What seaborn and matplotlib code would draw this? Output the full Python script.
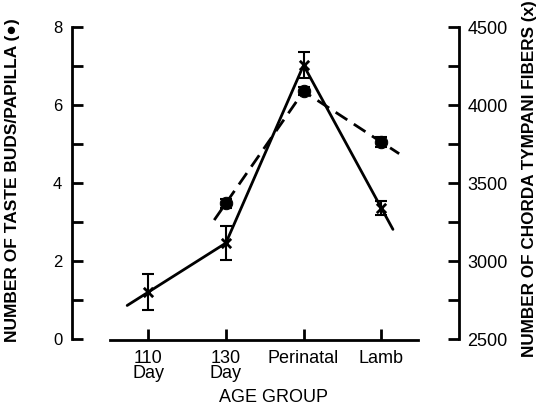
import numpy as np
import pandas as pd
import matplotlib
matplotlib.use("Agg")
import matplotlib.pyplot as plt
import seaborn as sns
from matplotlib.ticker import MultipleLocator

# ---- data ----
groups = ["110\nDay", "130\nDay", "Perinatal", "Lamb"]
bud_groups = [1, 2, 3]                 # indices of groups with taste bud data
buds = [3.48, 6.35, 5.05]
buds_err = [0.12, 0.10, 0.12]
fiber_groups = [0, 1, 2, 3]
fibers = [2800, 3115, 4255, 3340]
fibers_err = [115, 110, 83, 45]

left_ticks = [0, 2, 4, 6, 8]
right_ticks = [2500, 3000, 3500, 4000, 4500]

sns.set_theme(style="white")
plt.rcParams['font.family'] = ['Liberation Sans', 'DejaVu Sans']
plt.rcParams['text.color'] = 'black'
plt.rcParams['axes.labelcolor'] = 'black'
plt.rcParams['xtick.color'] = 'black'
plt.rcParams['ytick.color'] = 'black'

fig = plt.figure(figsize=(5.43, 4.05), dpi=100)
ax = fig.add_axes([72/543, 1-339/405, (459-72)/543, (339-27)/405])
ax2 = ax.twinx()

def extend(xs, ys, fl, fr):
    xs = list(map(float, xs)); ys = list(map(float, ys))
    x0 = xs[0] - fl*(xs[1]-xs[0]); y0 = ys[0] - fl*(ys[1]-ys[0])
    x1 = xs[-1] + fr*(xs[-1]-xs[-2]); y1 = ys[-1] + fr*(ys[-1]-ys[-2])
    return [x0]+xs+[x1], [y0]+ys+[y1]

# taste buds (dashed, dots)
bx, by = extend(bud_groups, buds, 0.15, 0.23)
sns.lineplot(x=bx, y=by, ax=ax, sort=False, estimator=None, color="black",
             lw=2, linestyle=(0, (5, 2.8)))
ax.errorbar(bud_groups, buds, yerr=buds_err, fmt="none", ecolor="black",
            elinewidth=1.5, capsize=4, capthick=1.5)
sns.scatterplot(x=bud_groups, y=buds, ax=ax, color="black", s=80, marker="o",
                edgecolor="black", zorder=5)

# fibers (solid, x)
fx, fy = extend(fiber_groups, fibers, 0.27, 0.15)
sns.lineplot(x=fx, y=fy, ax=ax2, sort=False, estimator=None, color="black", lw=2)
ax2.errorbar(fiber_groups, fibers, yerr=fibers_err, fmt="none", ecolor="black",
             elinewidth=1.5, capsize=4, capthick=1.5)
ax2.scatter(fiber_groups, fibers, marker="x", s=45, color="black", linewidths=2, zorder=5)

ax.set_xlim(-0.98, 4.0)
ax.set_ylim(0, 8)
ax2.set_ylim(2500, 4500)

for a in (ax, ax2):
    a.spines["top"].set_visible(False)
    for s in a.spines.values():
        s.set_linewidth(2)
        s.set_color("black")
ax2.spines["left"].set_visible(False)
ax2.spines["bottom"].set_visible(False)
ax.spines["right"].set_visible(False)
ax.spines["left"].set_bounds(0, 8)
ax2.spines["right"].set_bounds(2500, 4500)
ax.spines["bottom"].set_bounds(-0.49, 3.47)
ax.spines["bottom"].set_position(("outward", 1))

ax.set_xticks(range(len(groups)))
ax.set_xticklabels(groups, fontsize=13, linespacing=0.85)
ax.set_yticks(left_ticks)
ax.set_yticklabels([str(t) for t in left_ticks], fontsize=12)
ax.yaxis.set_minor_locator(MultipleLocator(1))
ax2.set_yticks(right_ticks)
ax2.set_yticklabels([str(t) for t in right_ticks], fontsize=13)
ax2.yaxis.set_minor_locator(MultipleLocator(250))

ax.tick_params(axis="both", which="both", direction="in", length=8, width=2,
               colors="black", left=True, bottom=True)
ax.tick_params(axis="y", pad=7)
ax.tick_params(axis="x", pad=7)
ax2.tick_params(axis="y", which="both", direction="in", length=8, width=2,
                colors="black", right=True, pad=6)

narrow = ['Liberation Sans Narrow', 'Liberation Sans', 'DejaVu Sans']
ax.set_xlabel("AGE GROUP", fontsize=13)
ax.xaxis.set_label_coords(0.52, -0.16)
ax.set_ylabel("NUMBER OF TASTE BUDS/PAPILLA (\u25cf)", fontsize=12.5,
              fontweight="bold", family=narrow)
ax.yaxis.set_label_coords(-0.135, 0.51)
ax2.set_ylabel("NUMBER OF CHORDA TYMPANI FIBERS (x)", fontsize=12.3,
               fontweight="bold", family=narrow)
ax2.yaxis.set_label_coords(1.163, 0.515)

ax.grid(False); ax2.grid(False)
fig.savefig("out.png", dpi=100)
